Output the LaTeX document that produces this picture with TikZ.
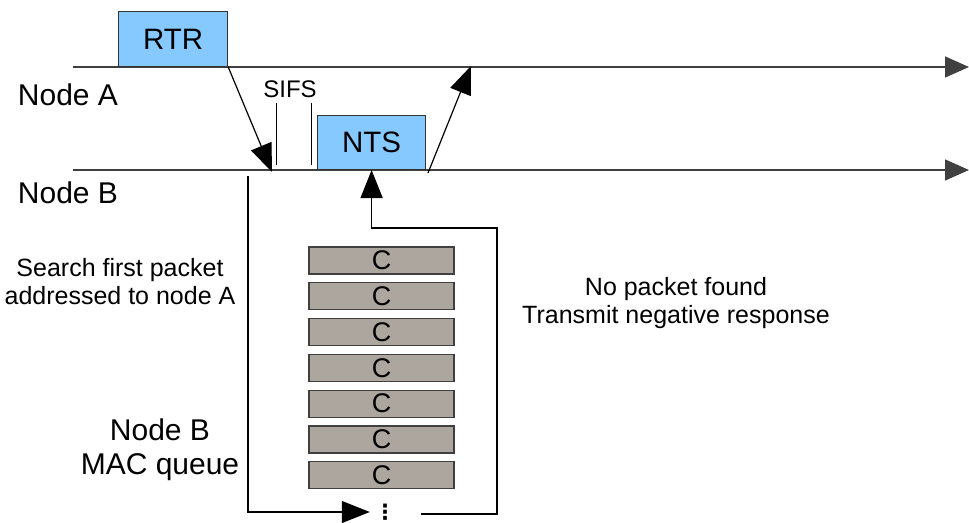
\documentclass[tikz,border=0pt]{standalone}
\usepackage{fontspec}
\setmainfont{Liberation Sans}
\newfontfamily\dotsfont{DejaVu Sans}
\usetikzlibrary{positioning}
\usetikzlibrary{arrows.meta}
\definecolor{frameBlue}{HTML}{85C9FF}
\definecolor{queueGray}{HTML}{ADA69F}

\begin{document}
\begin{tikzpicture}[
    x=1pt, y=-1pt,
    frame/.style={%
      draw=black!80,
      line width=1.2pt,
      fill=frameBlue,
      rectangle,
      inner sep=0pt,
      font=\fontsize{29.5}{29.5}\selectfont,
    },
    slot/.style={%
      draw=black!75,
      line width=1.2pt,
      fill=queueGray,
      rectangle,
      inner sep=0pt,
      minimum width=145pt,
      minimum height=27pt,
      font=\fontsize{27}{27}\selectfont,
    },
    timeline/.style={%
      draw=black!75,
      line width=1.5pt,
      -{Triangle[length=24pt,width=21pt]},
    },
    msg/.style={%
      line width=1.2pt,
      -{Triangle[length=28pt,width=22pt]},
    },
    label/.style={%
      font=\fontsize{30}{30}\selectfont,
    },
    note/.style={%
      align=center,
      font=\fontsize{25}{28}\selectfont,
    },
  ]

    \useasboundingbox (0,0) rectangle (969,522);

    % time lines
    \coordinate (A0) at (73,67);
    \coordinate (A1) at (969,67);
    \coordinate (B0) at (73,170);
    \coordinate (B1) at (969,170);
    \draw [timeline] (A0) -- (A1);
    \draw [timeline] (B0) -- (B1);
    \node [label] (nodeA) at (68,95) {Node A};
    \node [label] (nodeB) at (68,193) {Node B};

    % frames
    \node [frame, anchor=south west, minimum width=109pt, minimum height=55pt] (RTR) at (118,67) {RTR};
    \node [frame, anchor=south west, minimum width=108pt, minimum height=54pt] (NTS) at (317,170) {NTS};

    \coordinate (rtrIn) at (272,172);
    \coordinate (ntsOut) at (428,173);
    \coordinate (ntsIn) at (471,66);
    \draw [msg] (RTR.south east) -- (rtrIn);
    \draw [msg] (ntsOut) -- (ntsIn);

    % SIFS
    \node [font=\fontsize{24}{24}\selectfont] (SIFS) at (290,89) {SIFS};
    \coordinate (s1) at (276,103);
    \coordinate (s2) at (311,103);
    \draw [line width=1pt] (s1) -- ++(0,62);
    \draw [line width=1pt] (s2) -- ++(0,62);

    % MAC queue
    \node [slot] (C1) at (381.5,260.5) {C};
    \path (C1) ++(0,35.8) node [slot] (C2) {C};
    \path (C2) ++(0,35.8) node [slot] (C3) {C};
    \path (C3) ++(0,35.8) node [slot] (C4) {C};
    \path (C4) ++(0,35.8) node [slot] (C5) {C};
    \path (C5) ++(0,35.8) node [slot] (C6) {C};
    \path (C6) ++(0,35.8) node [slot] (C7) {C};
    \node [inner sep=0pt, minimum width=30pt, font=\dotsfont\bfseries\fontsize{21}{21}\selectfont] (more) at (385,512) {⋮};

    \coordinate (qs) at (248,176);
    \coordinate (qe) at (421,514);
    \coordinate (qr) at (497,228);
    \draw [msg] (qs) |- (more.west);
    \draw [msg] (qe) -| (qr) -| (NTS.south);

    % notes
    \node [note] (search) at (120,282) {Search first packet\\addressed to node A};
    \node [label, align=center, font=\fontsize{30}{34}\selectfont] (queue) at (160,450) {Node B\\MAC queue};
    \node [note] (nopkt) at (676,303) {No packet found\\Transmit negative response};
\end{tikzpicture}
\end{document}
